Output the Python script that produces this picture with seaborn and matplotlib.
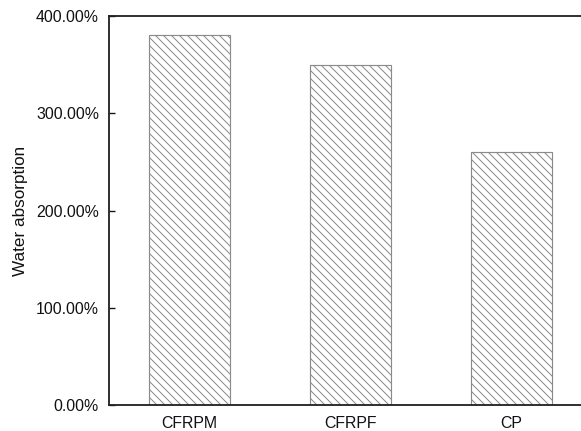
import matplotlib
matplotlib.use("Agg")
import matplotlib.pyplot as plt
from matplotlib.ticker import FuncFormatter
import seaborn as sns

sns.set_style("ticks")
plt.rcParams['font.family'] = ['Liberation Sans', 'DejaVu Sans']
plt.rcParams['hatch.color'] = '#b0b0b0'
plt.rcParams['hatch.linewidth'] = 0.6

#=======================================================================
#                                  Data
#=======================================================================
samples = ['CFRPM', 'CFRPF', 'CP']
water_absorption = [380, 350, 260]   # percent
yticks = [0, 100, 200, 300, 400]

#=======================================================================
#                                  Plot
#=======================================================================
dpi = 120
fig = plt.figure(figsize=(581 / dpi, 431 / dpi), dpi=dpi)
ax = fig.add_axes([0.1876, 0.0603, 0.8314, 0.9026])

sns.barplot(x=samples, y=water_absorption, color='white', width=0.5,
            edgecolor='#8a8a8a', linewidth=0.7, ax=ax)
for bar in ax.patches:
    bar.set_hatch('\\' * 5)
    bar.set_facecolor('white')

ax.set_xlim(-0.5, 2.5)
ax.set_ylim(0, 400)
ax.set_yticks(yticks)
ax.yaxis.set_major_formatter(FuncFormatter(lambda v, p: '%.2f%%' % v))
ax.set_xlabel('')
ax.set_ylabel('Water absorption', fontsize=10.3, color='#111111')
ax.yaxis.set_label_coords(-0.168, 0.5)

ax.tick_params(axis='y', direction='in', length=3.5, width=0.8,
               labelsize=9.5, pad=6, colors='#111111')
ax.tick_params(axis='x', length=0, labelsize=9.5, pad=6.5, colors='#111111')
for side in ['left', 'top', 'bottom']:
    ax.spines[side].set_linewidth(1.1)
    ax.spines[side].set_color('#222222')
ax.spines['right'].set_visible(False)

fig.savefig("out.png", dpi=dpi)
